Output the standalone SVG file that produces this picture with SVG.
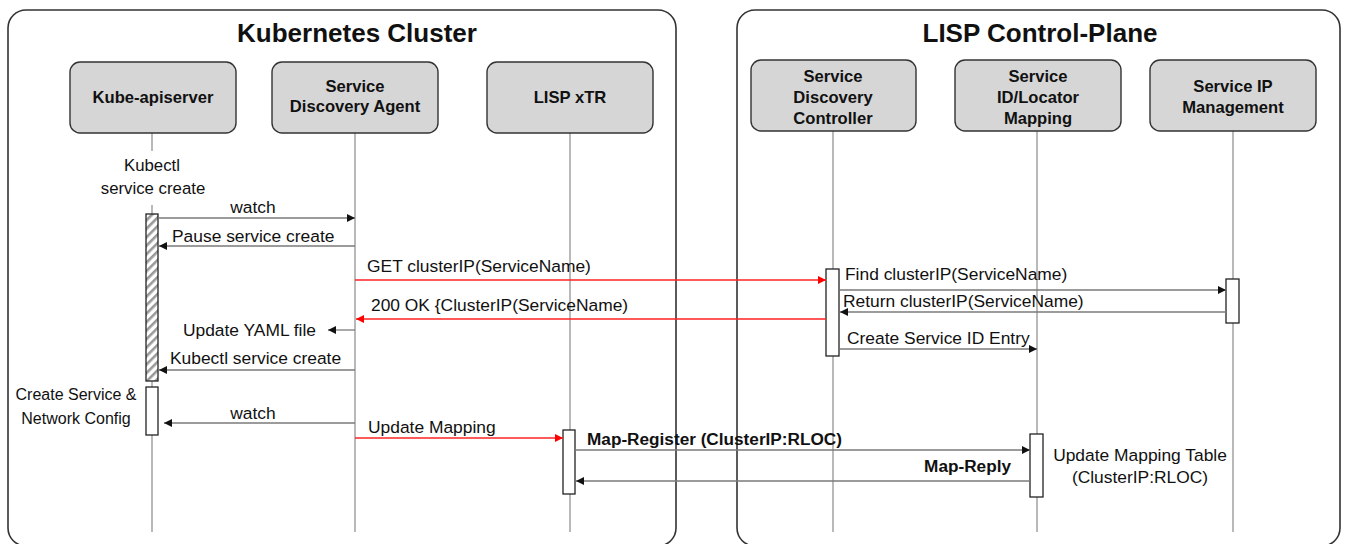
<svg xmlns="http://www.w3.org/2000/svg" width="1345" height="544" viewBox="0 0 1345 544">
<defs>
<marker id="ab" viewBox="0 0 10 10" refX="10" refY="5" markerWidth="9" markerHeight="8" markerUnits="userSpaceOnUse" orient="auto"><path d="M0,0 L10,5 L0,10 z" fill="#111"/></marker>
<marker id="ar" viewBox="0 0 10 10" refX="10" refY="5" markerWidth="9" markerHeight="8" markerUnits="userSpaceOnUse" orient="auto"><path d="M0,0 L10,5 L0,10 z" fill="#f00"/></marker>
<pattern id="hatch" patternUnits="userSpaceOnUse" width="6" height="6" patternTransform="rotate(-45)">
<rect width="6" height="6" fill="#fff"/><rect width="6" height="2.6" fill="#999"/>
</pattern>
<style>
.cont{fill:#fff;stroke:#333;stroke-width:1.6}
.title{font-family:"Liberation Sans",Arial,sans-serif;font-weight:bold;font-size:26px;fill:#111;text-anchor:middle}
.box{fill:#d6d6d6;stroke:#333;stroke-width:1.4}
.bl{font-family:"Liberation Sans",Arial,sans-serif;font-weight:bold;font-size:16.6px;fill:#111;text-anchor:middle}
.life{stroke:#8a8a8a;stroke-width:1.2;fill:none}
.act{fill:#fff;stroke:#222;stroke-width:1.3}
.msg{stroke:#7a7a7a;stroke-width:1.3;fill:none}
.red{stroke:#f22;stroke-width:1.3;fill:none}
.t{font-family:"Liberation Sans",Arial,sans-serif;font-size:17.4px;fill:#111}
.tb{font-family:"Liberation Sans",Arial,sans-serif;font-size:17.2px;font-weight:bold;fill:#111}
.ts{font-family:"Liberation Sans",Arial,sans-serif;font-size:16.8px;fill:#111}
.tc{font-family:"Liberation Sans",Arial,sans-serif;font-size:16px;fill:#111}
</style>
</defs>
<rect width="1345" height="544" fill="#fff"/>

<g id="kubernetes-cluster">
<rect class="cont" x="8" y="10" width="668" height="536" rx="18"/>
<text class="title" x="357" y="42">Kubernetes Cluster</text>
</g>
<g id="lisp-control-plane">
<rect class="cont" x="737" y="10" width="603" height="536" rx="18"/>
<text class="title" x="1040" y="42">LISP Control-Plane</text>
</g>

<g id="lifelines">
<line class="life" x1="152" y1="133" x2="152" y2="151"/>
<line class="life" x1="152" y1="205" x2="152" y2="532"/>
<line class="life" x1="355" y1="133" x2="355" y2="532"/>
<line class="life" x1="570" y1="133" x2="570" y2="532"/>
<line class="life" x1="833" y1="131" x2="833" y2="532"/>
<line class="life" x1="1037" y1="131" x2="1037" y2="532"/>
<line class="life" x1="1233" y1="131" x2="1233" y2="532"/>
</g>

<g id="kube-apiserver">
<rect class="box" x="70" y="62" width="166" height="71" rx="10"/>
<text class="bl" x="153" y="103">Kube-apiserver</text>
</g>
<g id="service-discovery-agent">
<rect class="box" x="272" y="62" width="166" height="71" rx="10"/>
<text class="bl" x="355" y="92">Service</text>
<text class="bl" x="355" y="112">Discovery Agent</text>
</g>
<g id="lisp-xtr">
<rect class="box" x="487" y="62" width="166" height="71" rx="10"/>
<text class="bl" x="570" y="103">LISP xTR</text>
</g>
<g id="service-discovery-controller">
<rect class="box" x="751" y="60" width="165" height="71" rx="10"/>
<text class="bl" x="833" y="82">Service</text>
<text class="bl" x="833" y="103">Discovery</text>
<text class="bl" x="833" y="124">Controller</text>
</g>
<g id="service-id-locator-mapping">
<rect class="box" x="955" y="60" width="166" height="71" rx="10"/>
<text class="bl" x="1038" y="82">Service</text>
<text class="bl" x="1038" y="103">ID/Locator</text>
<text class="bl" x="1038" y="124">Mapping</text>
</g>
<g id="service-ip-management">
<rect class="box" x="1150" y="60" width="166" height="71" rx="10"/>
<text class="bl" x="1233" y="92">Service IP</text>
<text class="bl" x="1233" y="113">Management</text>
</g>

<g id="activations">
<rect x="146" y="214" width="12" height="167" fill="url(#hatch)" stroke="#222" stroke-width="1.3"/>
<rect class="act" x="146" y="387" width="12" height="48"/>
<rect class="act" x="826" y="269" width="13" height="87"/>
<rect class="act" x="1226" y="279" width="13" height="44"/>
<rect class="act" x="563" y="430" width="12" height="64"/>
<rect class="act" x="1030" y="434" width="13" height="63"/>
</g>

<g id="notes">
<text class="ts" x="152" y="171" text-anchor="middle">Kubectl</text>
<text class="ts" x="153" y="194" text-anchor="middle">service create</text>
<text class="tc" x="76" y="400" text-anchor="middle">Create Service &amp;</text>
<text class="tc" x="76" y="424" text-anchor="middle">Network Config</text>
<text class="t" x="1140" y="461" text-anchor="middle">Update Mapping Table</text>
<text class="t" x="1140" y="483" text-anchor="middle">(ClusterIP:RLOC)</text>
</g>

<g id="connectors">
<line class="msg" x1="158" y1="218" x2="355" y2="218" marker-end="url(#ab)"/>
<text class="t" x="253" y="213" text-anchor="middle">watch</text>
<line class="msg" x1="355" y1="246" x2="159" y2="246" marker-end="url(#ab)"/>
<text class="t" x="172" y="242">Pause service create</text>
<line class="red" x1="355" y1="280" x2="826" y2="280" marker-end="url(#ar)"/>
<text class="t" x="367" y="272">GET clusterIP(ServiceName)</text>
<line class="msg" x1="840" y1="290" x2="1226" y2="290" marker-end="url(#ab)"/>
<text class="t" x="845" y="280">Find clusterIP(ServiceName)</text>
<line class="msg" x1="1226" y1="312" x2="840" y2="312" marker-end="url(#ab)"/>
<text class="t" x="843" y="307">Return clusterIP(ServiceName)</text>
<line class="red" x1="826" y1="319" x2="356" y2="319" marker-end="url(#ar)"/>
<text class="t" x="371" y="311">200 OK {ClusterIP(ServiceName)</text>
<line class="msg" x1="355" y1="330" x2="328" y2="330" marker-end="url(#ab)"/>
<text class="t" x="316" y="336" text-anchor="end">Update YAML file</text>
<line class="msg" x1="840" y1="349" x2="1037" y2="349" marker-end="url(#ab)"/>
<text class="t" x="847" y="344">Create Service ID Entry</text>
<line class="msg" x1="355" y1="370" x2="159" y2="370" marker-end="url(#ab)"/>
<text class="t" x="170" y="364">Kubectl service create</text>
<line class="msg" x1="355" y1="423" x2="164" y2="423" marker-end="url(#ab)"/>
<text class="t" x="253" y="419" text-anchor="middle">watch</text>
<line class="red" x1="355" y1="438" x2="563" y2="438" marker-end="url(#ar)"/>
<text class="t" x="368" y="433">Update Mapping</text>
<line class="msg" x1="575" y1="450" x2="1030" y2="450" marker-end="url(#ab)"/>
<text class="tb" x="587" y="445">Map-Register (ClusterIP:RLOC)</text>
<line class="msg" x1="1030" y1="481" x2="576" y2="481" marker-end="url(#ab)"/>
<text class="tb" x="1011" y="472" text-anchor="end">Map-Reply</text>
</g>
</svg>
